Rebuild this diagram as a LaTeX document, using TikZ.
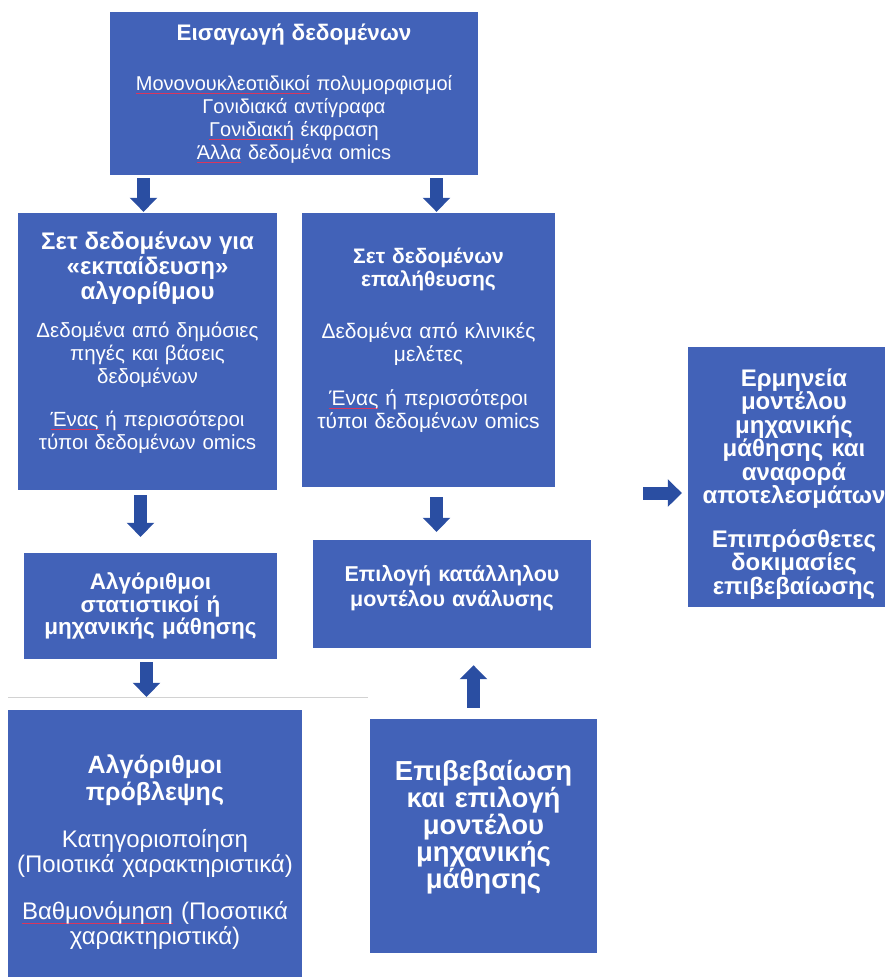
\documentclass[tikz,border=0pt]{standalone}
\usepackage{fontspec}
\setmainfont{Liberation Sans}
\usetikzlibrary{arrows.meta}
\definecolor{boxblue}{HTML}{4262B8}
\definecolor{arrowblue}{HTML}{2A4EA2}
\definecolor{spellred}{HTML}{D8365E}
\newsavebox\spellbox
\newcommand\spellmark[1]{\leavevmode\sbox\spellbox{#1}%
  \rlap{\textcolor{spellred}{\rule[-4pt]{\wd\spellbox}{1pt}}}\usebox\spellbox}

\begin{document}
\begin{tikzpicture}[x=1pt,y=-1pt,
  box/.style={fill=boxblue,text=white,align=center,inner sep=0pt,
    font=\fontsize{20.5}{23}\selectfont},
  bigbox/.style={box,font=\bfseries\fontsize{27.5}{27}\selectfont},
  blockarrow/.style={draw=arrowblue,line width=13pt,
    -{Triangle[width=27pt,length=14pt]}}]
  \useasboundingbox (0,0) rectangle (885,977);
  \node[box,text width=368pt,minimum height=163pt,font=\fontsize{20}{23}\selectfont] (input) at (294,93.5)
    {{\bfseries\fontsize{22.5}{23}\selectfont Εισαγωγή δεδομένων\\[27pt]}
     \spellmark{Μονονουκλεοτιδικοί} πολυμορφισμοί\\Γονιδιακά αντίγραφα\\
     \spellmark{Γονιδιακή} έκφραση\\\spellmark{Άλλα} δεδομένα omics};
  \node[box,text width=259pt,minimum height=277pt] (train) at (147.5,351.5)
    {{\bfseries\fontsize{24}{25}\selectfont Σετ δεδομένων για\\«εκπαίδευση»\\αλγορίθμου\\[15pt]}
     Δεδομένα από δημόσιες\\πηγές και βάσεις\\δεδομένων\\[20pt]
     \spellmark{Ένας} ή περισσότεροι\\τύποι δεδομένων omics\par\vspace{18pt}};
  \node[box,text width=253pt,minimum height=274pt,font=\fontsize{21}{23}\selectfont] (valid) at (428.5,350)
    {{\bfseries Σετ δεδομένων\\επαλήθευσης\\[29pt]}
     Δεδομένα από κλινικές\\μελέτες\\[21pt]
     \spellmark{Ένας} ή περισσότεροι\\τύποι δεδομένων omics\par\vspace{20pt}};
  \node[box,text width=253pt,minimum height=106pt,font=\bfseries\fontsize{22.5}{22.5}\selectfont]
    (statalg) at (150.5,606) {Αλγόριθμοι\\στατιστικοί ή\\μηχανικής μάθησης};
  \node[box,text width=278pt,minimum height=108pt,font=\bfseries\fontsize{21.5}{25}\selectfont]
    (select) at (452,594) {Επιλογή κατάλληλου\\μοντέλου ανάλυσης\par\vspace{12pt}};
  \node[box,text width=294pt,minimum height=267pt,font=\fontsize{24}{25}\selectfont] (predict) at (155,843.5)
    {{\bfseries\fontsize{25}{27}\selectfont Αλγόριθμοι\\πρόβλεψης\\[22pt]}
     Κατηγοριοποίηση\\(Ποιοτικά χαρακτηριστικά)\\[22pt]
     \spellmark{Βαθμονόμηση} (Ποσοτικά\\χαρακτηριστικά)\par\vspace{-18pt}};
  \node[bigbox,text width=227pt,minimum height=234pt] (confirm) at (483.5,836)
    {Επιβεβαίωση\\και επιλογή\\μοντέλου\\μηχανικής\\μάθησης\par\vspace{18pt}};
  \node[bigbox,text width=212pt,minimum height=260pt,font=\bfseries\fontsize{24}{23.5}\selectfont]
    (interp) at (794,477)
    {Ερμηνεία\\μοντέλου\\μηχανικής\\μάθησης και\\αναφορά\\αποτελεσμάτων\\[20pt]
     Επιπρόσθετες\\δοκιμασίες\\επιβεβαίωσης\par\vspace{-14pt}};
  \coordinate (feed) at (643,493);
  \draw[gray!35] (8,697) -- (368,697);
  \draw[blockarrow,shorten <=3pt,shorten >=1pt] ([xshift=-4pt]train.north |- input.south) -- ([xshift=-4pt]train.north);
  \draw[blockarrow,shorten <=3pt,shorten >=1pt] ([xshift=8pt]valid.north |- input.south) -- ([xshift=8pt]valid.north);
  \draw[blockarrow,shorten <=5pt,shorten >=16pt] ([xshift=-10pt]statalg.north |- train.south) -- ([xshift=-10pt]statalg.north);
  \draw[blockarrow,shorten <=3pt,shorten >=13pt] ([xshift=-4pt]statalg.south) -- ([xshift=-4pt]statalg.south |- predict.north);
  \draw[blockarrow,shorten <=10pt,shorten >=8pt] ([xshift=8pt]valid.south) -- ([xshift=8pt]valid.south |- select.north);
  \draw[blockarrow,shorten <=11pt,shorten >=17pt] ([xshift=-10pt]confirm.north) -- ([xshift=-10pt]confirm.north |- select.south);
  \draw[blockarrow,shorten >=6pt] (feed) -- (feed -| interp.west);
\end{tikzpicture}
\end{document}
